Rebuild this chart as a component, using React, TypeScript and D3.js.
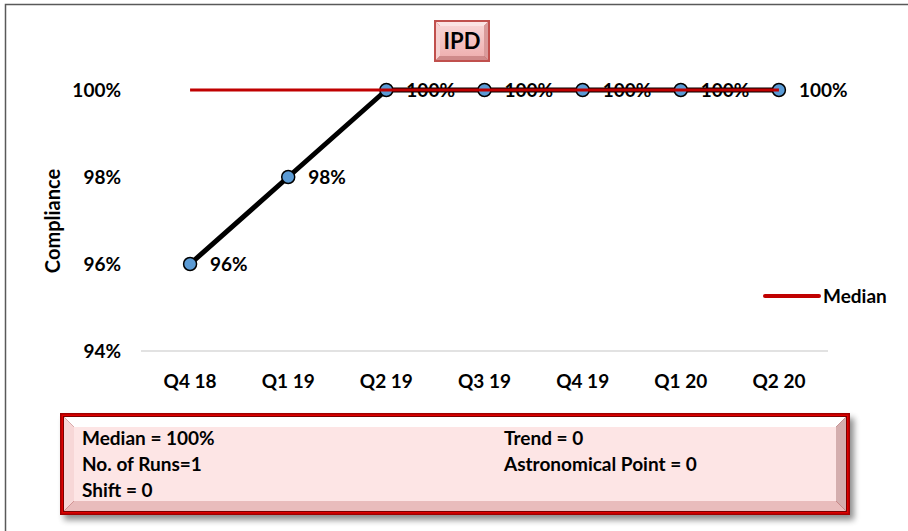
import React from "react";
import * as d3 from "d3";

const categories = ["Q4 18", "Q1 19", "Q2 19", "Q3 19", "Q4 19", "Q1 20", "Q2 20"];
const compliance = [96, 98, 100, 100, 100, 100, 100];
const median = [100, 100, 100, 100, 100, 100, 100];
const yTicks = [94, 96, 98, 100];
const statsLeft = ["Median = 100%", "No. of Runs=1", "Shift = 0"];
const statsRight = ["Trend = 0", "Astronomical Point = 0"];
const chartTitle = "IPD";
const yTitle = "Compliance";
const legendLabel = "Median";

const W = 908;
const H = 531;
const FONT = "Lato, 'Open Sans', sans-serif";
const FS = 19;

export default function App() {
  const x = d3.scaleBand<string>().domain(categories).range([141, 828]);
  const y = d3.scaleLinear().domain([94, 100]).range([351, 90]);
  const cx = (c: string) => (x(c) as number) + x.bandwidth() / 2;

  const line = d3
    .line<number>()
    .x((_, i) => cx(categories[i]))
    .y((d) => y(d));

  return (
    <svg
      width={W}
      height={H}
      style={{ position: "absolute", left: 0, top: 0, display: "block", background: "#fff" }}
      fontFamily={FONT}
    >
      <defs>
        <linearGradient id="titleGrad" x1="0" y1="0" x2="0" y2="1">
          <stop offset="0" stopColor="#f8d3d3" />
          <stop offset="1" stopColor="#efb1b1" />
        </linearGradient>
        <filter id="shadow" x="-5%" y="-20%" width="115%" height="150%">
          <feGaussianBlur in="SourceAlpha" stdDeviation="3" />
          <feOffset dx="4" dy="5" result="ob" />
          <feComponentTransfer>
            <feFuncA type="linear" slope="0.45" />
          </feComponentTransfer>
          <feMerge>
            <feMergeNode />
            <feMergeNode in="SourceGraphic" />
          </feMerge>
        </filter>
      </defs>

      {/* outer frame */}
      <rect x={5.5} y={4.5} width={W + 10} height={H + 10} fill="none" stroke="#595959" strokeWidth={1.5} />

      {/* title box */}
      <g>
        <rect x={434} y={20} width={56} height={42} fill="#c0504d" />
        <polygon points="436,22 488,22 484,26 440,26" fill="#fbe3e3" />
        <polygon points="436,22 440,26 440,56 436,60" fill="#f6d0d0" />
        <polygon points="488,22 488,60 484,56 484,26" fill="#d99a9a" />
        <polygon points="436,60 488,60 484,56 440,56" fill="#cf8a8a" />
        <rect x={440} y={26} width={44} height={30} fill="url(#titleGrad)" />
        <text x={462} y={49} textAnchor="middle" fontSize={22} fontWeight="bold" fill="#000">
          {chartTitle}
        </text>
      </g>

      {/* axis baseline */}
      <line x1={141} x2={828} y1={y(94)} y2={y(94)} stroke="#d9d9d9" strokeWidth={1.5} />

      {/* y tick labels */}
      {yTicks.map((t) => (
        <text key={t} x={121} y={y(t) + 7} textAnchor="end" fontSize={FS} fontWeight="bold" fill="#000">
          {t}%
        </text>
      ))}

      {/* y title */}
      <text
        transform={`translate(60,221) rotate(-90)`}
        textAnchor="middle"
        fontSize={20}
        fontWeight="bold"
        fill="#000"
      >
        {yTitle}
      </text>

      {/* x tick labels */}
      {categories.map((c) => (
        <text key={c} x={cx(c)} y={388} textAnchor="middle" fontSize={FS} fontWeight="bold" fill="#000">
          {c}
        </text>
      ))}

      {/* data line */}
      <path d={line(compliance) as string} fill="none" stroke="#000" strokeWidth={5} strokeLinejoin="round" />

      {/* markers */}
      {compliance.map((v, i) => (
        <circle key={i} cx={cx(categories[i])} cy={y(v)} r={6.5} fill="#5b9bd5" stroke="#000" strokeWidth={1.5} />
      ))}

      {/* data labels */}
      {compliance.map((v, i) => (
        <text
          key={"l" + i}
          x={cx(categories[i]) + 20}
          y={y(v) + 7}
          fontSize={FS}
          fontWeight="bold"
          fill="#000"
        >
          {v}%
        </text>
      ))}

      {/* median line (drawn on top) */}
      <path d={line(median) as string} fill="none" stroke="#c00000" strokeWidth={3} />

      {/* legend */}
      <line x1={765} x2={819} y1={296} y2={296} stroke="#c00000" strokeWidth={4} strokeLinecap="round" />
      <text x={823} y={303} fontSize={FS} fontWeight="bold" fill="#000">
        {legendLabel}
      </text>

      {/* stats box */}
      <g filter="url(#shadow)">
        <rect x={60} y={413} width={790} height={102} fill="#a00000" />
        <rect x={61.5} y={414.5} width={787} height={99} fill="#e00000" />
        <rect x={63} y={416} width={784} height={96} fill="#7a0000" />
        <polygon points="64,417 846,417 836,427 74,427" fill="#ffffff" />
        <polygon points="64,417 74,427 74,501 64,511" fill="#f7d7d7" />
        <polygon points="846,417 846,511 836,501 836,427" fill="#d4aeae" />
        <polygon points="64,511 846,511 836,501 74,501" fill="#e9bcbc" />
        <rect x={74} y={427} width={762} height={74} fill="#fde5e5" />
      </g>
      {statsLeft.map((s, i) => (
        <text key={s} x={82} y={445 + i * 26} fontSize={FS} fontWeight="bold" fill="#000">
          {s}
        </text>
      ))}
      {statsRight.map((s, i) => (
        <text key={s} x={504} y={445 + i * 26} fontSize={FS} fontWeight="bold" fill="#000">
          {s}
        </text>
      ))}
    </svg>
  );
}
